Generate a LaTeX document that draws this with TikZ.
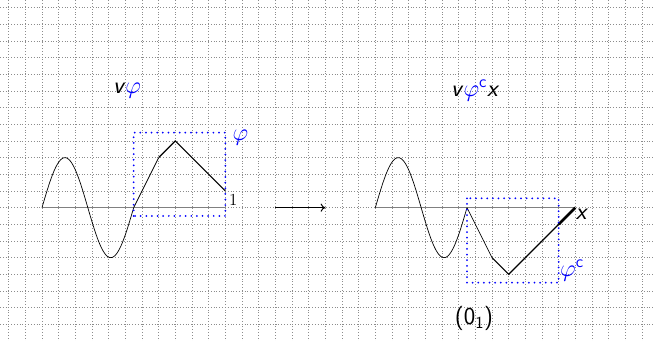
\documentclass[tikz,border=0pt]{standalone}
\usepackage{tikz}
\usepackage{xcolor}
\usetikzlibrary{arrows.meta}

\begin{document}
\begin{tikzpicture}[
    gridline/.style={dotted, black!45},
    axisline/.style={gray, line width=0.7pt},
    wave/.style={line width=0.6pt},
    piece/.style={line width=1pt},
    tailpiece/.style={line width=2.2pt},
    markbox/.style={blue, line width=1.7pt, line cap=round, dash pattern=on 0pt off 4.8pt},
    lbl/.style={font=\huge\sffamily, inner sep=1pt},
    numlbl/.style={font=\Large, inner sep=1pt},
    arrow/.style={-{To[length=4pt,width=7pt]}, line width=0.8pt}
]
    \useasboundingbox (-1.26,-4) rectangle (18.39,6.23);

    % Background grid
    \draw[gridline, step=0.5] (-1.26,-4) grid (18.39,6.23);

    % Left curve
    \coordinate (a0) at (0,0);
    \coordinate (a1) at (2.75,0);
    \coordinate (a2) at (3.5,1.5);
    \coordinate (a3) at (4,2);
    \coordinate (a4) at (5.5,0.5);
    \draw[axisline] (a0) -- (5.5,0);
    \draw[wave] plot[domain=0:2.75, samples=80, smooth] (\x,{1.5*sin(\x*360/2.75)});
    \draw[wave] (a1) -- (a2);
    \draw[piece] (a2) -- (a3) -- (a4);
    \draw[markbox] (2.75,-0.25) rectangle (5.5,2.25);
    \node[numlbl] (one) at (5.74,0.24) {1};
    \node[lbl, text=blue] (phi) at (5.95,2.1) {$\varphi$};
    \node[lbl] (left) at (2.55,3.52) {\textit{v}\textcolor{blue}{$\varphi$}};

    % Arrow between the two
    \coordinate (from) at (7,0);
    \coordinate (to) at (8.5,0);
    \draw[arrow] (from) -- (to);

    % Right curve
    \coordinate (b0) at (10,0);
    \coordinate (b1) at (12.75,0);
    \coordinate (b2) at (13.5,-1.5);
    \coordinate (b3) at (14,-2);
    \coordinate (b4) at (15.5,-0.5);
    \coordinate (b5) at (16,0);
    \draw[axisline] (b0) -- (b5);
    \draw[wave] plot[domain=0:2.75, samples=80, smooth] ({10+\x},{1.5*sin(\x*360/2.75)});
    \draw[wave] (b1) -- (b2);
    \draw[piece] (b2) -- (b3) -- (b4);
    \draw[tailpiece] (b4) -- (b5);
    \draw[markbox] (12.75,0.28) rectangle (15.5,-2.25);
    \node[lbl] (xlbl) at (16.2,-0.2) {\textit{x}};
    \node[lbl, text=blue] (phic) at (15.9,-1.9) {$\varphi^{\mathsf{c}}$};
    \node[lbl] (right) at (13,3.5) {\textit{v}\textcolor{blue}{$\varphi^{\mathsf{c}}$}\textit{x}};
    \node[lbl] (zero) at (12.96,-3.32) {(0\textsubscript{1})};

\end{tikzpicture}
\end{document}
